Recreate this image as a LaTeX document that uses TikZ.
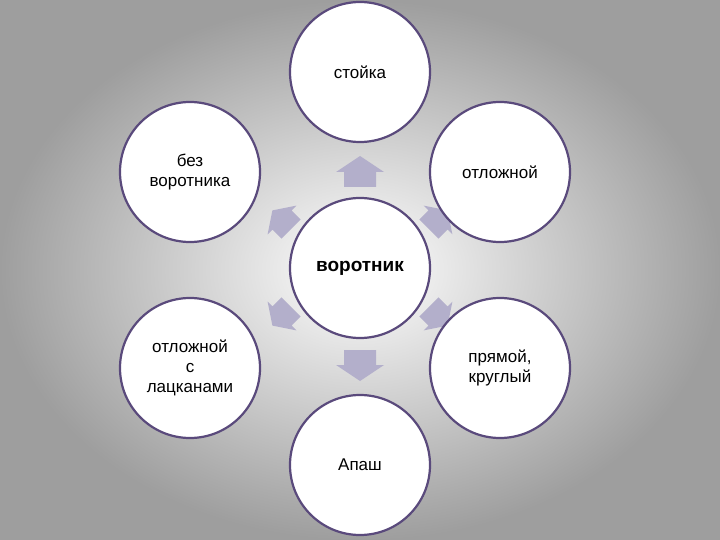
\documentclass[tikz,border=0pt]{standalone}
\usepackage{fontspec}
\setmainfont{Liberation Sans}
\begin{document}
\begin{tikzpicture}[x=1pt,y=1pt,
  circ/.style={circle,draw=circcol,line width=2.2pt,fill=white,minimum size=140pt,inner sep=0pt,align=center,font=\fontsize{17}{20}\selectfont},
  blockarr/.style={fill=arrcol,draw=none}]
\definecolor{circcol}{HTML}{5A4A7C}
\definecolor{arrcol}{HTML}{B3AFCB}
\shade[inner color=white,outer color=black!38] (0,0) rectangle (720,-540);
\useasboundingbox (0,0) rectangle (720,-540);
\foreach \px/\py/\ang/\s in {360/-172/0/1, 282/-220/45/0.85, 438/-220/-45/0.85, 282/-316/135/0.85, 438/-316/-135/0.85, 360/-365/180/1}{
  \begin{scope}[shift={(\px,\py)},rotate=\ang,scale=\s]
    \fill[arrcol] (0,16) -- (24,0) -- (16,0) -- (16,-15) -- (-16,-15) -- (-16,0) -- (-24,0) -- cycle;
  \end{scope}
}
\node[circ] (c) at (360,-268) {\fontsize{19}{22}\selectfont\textbf{воротник}};
\node[circ] (t) at (360,-72) {стойка};
\node[circ] (tl) at (190,-172) {без\\воротника};
\node[circ] (tr) at (500,-172) {отложной};
\node[circ] (bl) at (190,-368) {отложной\\с\\лацканами};
\node[circ] (br) at (500,-368) {прямой,\\круглый};
\node[circ] (b) at (360,-465) {Апаш};
\end{tikzpicture}
\end{document}
